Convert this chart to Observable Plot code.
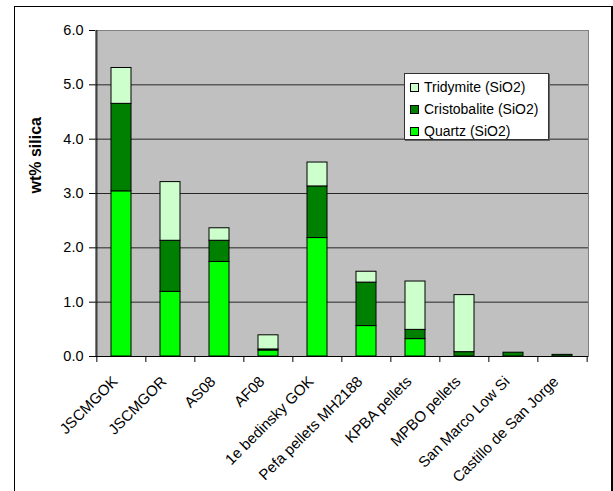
<!DOCTYPE html>
<html>
<head>
<meta charset="utf-8">
<script src="https://cdn.jsdelivr.net/npm/d3@7"></script>
<script src="https://cdn.jsdelivr.net/npm/@observablehq/plot@0.6"></script>
<style>
  body { margin: 0; background: #fff; font-family: "Liberation Sans", Arial, sans-serif; }
  #wrap { position: relative; width: 613px; height: 491px; overflow: hidden; }
  #border { position: absolute; left: 14px; top: 6px; width: 596px; height: 520px;
            border: 1px solid #000; border-right-width: 2px; pointer-events: none; }
  #legend { position: absolute; left: 404px; top: 73px; width: 143px; height: 65px;
            background: #fff; border: 1px solid #333; box-shadow: 1px 1px 0 #666;
            font-size: 14px; color: #000; }
  .row { position: absolute; left: 5px; height: 22px; display: flex; align-items: center; white-space: nowrap; }
  .sw { width: 7px; height: 7px; border: 1px solid #000; margin-right: 5px; }
</style>
</head>
<body>
<div id="wrap">
  <div id="chart"></div>
  <div id="legend"></div>
  <div id="border"></div>
</div>
<script>
// Samples along the x axis
const categories = [
  "JSCMGOK", "JSCMGOR", "AS08", "AF08", "1e bedinsky GOK",
  "Pefa pellets MH2188", "KPBA pellets", "MPBO pellets",
  "San Marco Low Si", "Castillo de San Jorge"
];

// wt% of each silica polymorph per sample
const quartz       = [3.04, 1.19, 1.74, 0.11, 2.18, 0.56, 0.32, 0.00, 0.00, 0.00];
const cristobalite = [1.61, 0.94, 0.39, 0.02, 0.95, 0.80, 0.17, 0.08, 0.07, 0.03];
const tridymite    = [0.66, 1.08, 0.23, 0.26, 0.44, 0.20, 0.89, 1.05, 0.00, 0.00];

// Series names (bottom of the stack first) and their fills
const minerals = ["Quartz (SiO2)", "Cristobalite (SiO2)", "Tridymite (SiO2)"];
const colors = ["#00ff00", "#008000", "#ccffcc"];
const yTicks = [0, 1, 2, 3, 4, 5, 6];
const yLabel = "wt% silica";

// Long table for the stacked bars, quartz rows first so it sits at the bottom
const seriesValues = [quartz, cristobalite, tridymite];
const table = [];
minerals.forEach((m, s) => {
  categories.forEach((c, i) => {
    const v = seriesValues[s][i];
    if (v > 0) table.push({name: c, mineral: m, value: v});
  });
});

const W = 613, H = 491, ML = 95, MR = 25, MT = 30, MB = 135;
const step = (W - ML - MR) / categories.length;

const chart = Plot.plot({
  width: W,
  height: H,
  marginLeft: ML,
  marginRight: MR,
  marginTop: MT,
  marginBottom: MB,
  style: {fontFamily: "Liberation Sans, Arial, sans-serif", fontSize: "14px", background: "#fff", color: "#000", overflow: "visible"},
  x: {type: "band", domain: categories, paddingInner: 0.6, paddingOuter: 0.3, axis: null},
  y: {domain: [0, 6], axis: null},
  color: {domain: minerals, range: colors},
  marks: [
    Plot.frame({fill: "#c0c0c0", stroke: "#808080"}),
    Plot.gridY(yTicks.slice(1, -1), {stroke: "#000", strokeOpacity: 0.8}),
    Plot.barY(table, Plot.stackY({x: "name", y: "value", fill: "mineral", stroke: "#000", strokeWidth: 1})),
    // axis lines
    Plot.ruleY([0], {stroke: "#000"}),
    Plot.ruleX([categories[0]], {x: d => d, dx: -step / 2, stroke: "#000"}),
    // x ticks at category boundaries
    Plot.ruleX(categories, {x: d => d, y1: 0, y2: 0, dx: -step / 2, insetBottom: -6, stroke: "#000"}),
    Plot.ruleX([categories[categories.length - 1]], {x: d => d, y1: 0, y2: 0, dx: step / 2, insetBottom: -6, stroke: "#000"}),
    Plot.axisY(yTicks, {tickFormat: d3.format(".1f"), tickSize: 6, tickPadding: 6, fontSize: 14.5, label: null}),
    Plot.text([yLabel], {frameAnchor: "left", dx: -60, rotate: -90, fontWeight: "bold", fontSize: 16}),
    Plot.text(categories, {x: d => d, frameAnchor: "bottom", dx: -3, dy: 26, rotate: -45, textAnchor: "end", fontSize: 15})
  ]
});
document.getElementById("chart").appendChild(chart);

// Legend, top entry first
const legend = document.getElementById("legend");
[2, 1, 0].forEach((s, r) => {
  const row = document.createElement("div");
  row.className = "row";
  row.style.top = (2 + r * 22) + "px";
  const sw = document.createElement("div");
  sw.className = "sw";
  sw.style.background = colors[s];
  row.appendChild(sw);
  row.appendChild(document.createTextNode(minerals[s]));
  legend.appendChild(row);
});
</script>
</body>
</html>
